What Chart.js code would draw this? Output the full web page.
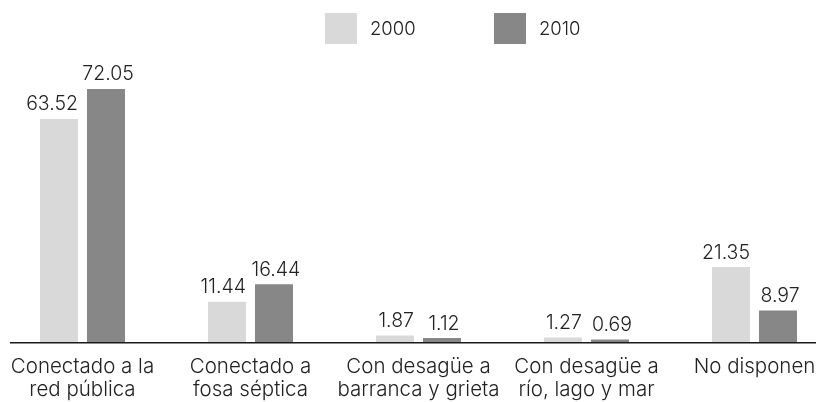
<!DOCTYPE html>
<html><head><meta charset="utf-8">
<script src="https://cdn.jsdelivr.net/npm/chart.js@4.4.0/dist/chart.umd.min.js"></script>
<style>html,body{margin:0;padding:0;background:#fff}#wrap{width:816px;height:402px}</style>
</head><body><div id="wrap"><canvas id="c" width="816" height="402"></canvas></div>
<script>
const categories = [["Conectado a la","red pública"],["Conectado a","fosa séptica"],["Con desagüe a","barranca y grieta"],["Con desagüe a","río, lago y mar"],["No disponen"]];
const seriesNames = ["2000","2010"];
const values2000 = [63.52, 11.44, 1.87, 1.27, 21.35];
const values2010 = [72.05, 16.44, 1.12, 0.69, 8.97];
const seriesColors = ["#d9d9d9","#878787"];

const FONT = 'Inter';
const WEIGHT = '300';
const TEXT = '#222222';
Chart.defaults.font.family = FONT;

const legendPlugin = {
  id: 'customLegend',
  afterDraw(chart) {
    const ctx = chart.ctx;
    const boxX = [325, 494];
    ctx.save();
    ctx.font = WEIGHT + ' 18.5px ' + FONT;
    ctx.textBaseline = 'middle';
    ctx.textAlign = 'left';
    chart.data.datasets.forEach((ds, i) => {
      ctx.fillStyle = ds.backgroundColor;
      ctx.fillRect(boxX[i], 13, 32, 31);
      ctx.fillStyle = TEXT;
      ctx.fillText(ds.label, boxX[i] + 45, 29.5);
    });
    ctx.restore();
  }
};

const valueLabels = {
  id: 'valueLabels',
  afterDatasetsDraw(chart) {
    const ctx = chart.ctx;
    ctx.save();
    ctx.font = WEIGHT + ' 19.5px ' + FONT;
    ctx.fillStyle = TEXT;
    ctx.textBaseline = 'alphabetic';
    chart.data.datasets.forEach((ds, i) => {
      const meta = chart.getDatasetMeta(i);
      meta.data.forEach((bar, j) => {
        const txt = ds.data[j].toFixed(2);
        if (i === 0) {
          ctx.textAlign = 'right';
          ctx.fillText(txt, bar.x + bar.width / 2, bar.y - 8.5);
        } else {
          ctx.textAlign = 'center';
          ctx.fillText(txt, bar.x + 2, bar.y - 8.5);
        }
      });
    });
    ctx.restore();
  }
};

const baseline = {
  id: 'baseline',
  afterDatasetsDraw(chart) {
    const ctx = chart.ctx;
    const y = chart.scales.y.getPixelForValue(0) + 0.8;
    ctx.save();
    ctx.strokeStyle = '#1a1a1a';
    ctx.lineWidth = 1.6;
    ctx.beginPath();
    ctx.moveTo(10, y);
    ctx.lineTo(chart.width, y);
    ctx.stroke();
    ctx.restore();
  }
};

new Chart(document.getElementById('c'), {
  type: 'bar',
  data: {
    labels: categories,
    datasets: [
      { label: seriesNames[0], data: values2000, backgroundColor: seriesColors[0], clip: false },
      { label: seriesNames[1], data: values2010, backgroundColor: seriesColors[1], clip: false }
    ]
  },
  options: {
    responsive: false,
    animation: false,
    layout: { padding: { left: 82.5, right: 61.5, top: 61, bottom: 0 } },
    datasets: { bar: { categoryPercentage: 0.5595, barPercentage: 0.8085 } },
    plugins: { legend: { display: false }, tooltip: { enabled: false } },
    scales: {
      x: {
        offset: false,
        grid: { display: false, drawTicks: false },
        border: { display: false },
        ticks: { color: TEXT, font: { family: FONT, size: 20.5, weight: WEIGHT, lineHeight: 1.137 }, padding: 13, autoSkip: false, maxRotation: 0, minRotation: 0 },
        afterFit(s) { s.height = 60; s.paddingLeft = 0; s.paddingRight = 0; }
      },
      y: { display: false, min: 0, max: 80 }
    }
  },
  plugins: [legendPlugin, valueLabels, baseline]
});
</script>
</body></html>
